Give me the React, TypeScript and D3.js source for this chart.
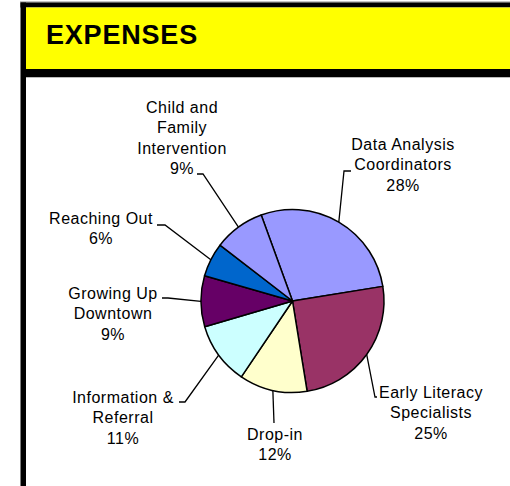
import React from 'react';
import * as d3 from 'd3';

// Expense shares (percent), clockwise from the top
const categories = [
  'Data Analysis Coordinators',
  'Early Literacy Specialists',
  'Drop-in',
  'Information & Referral',
  'Growing Up Downtown',
  'Reaching Out',
  'Child and Family Intervention',
];
const shares = [28, 25, 12, 11, 9, 6, 9];
const labelLines = [
  ['Data Analysis', 'Coordinators', '28%'],
  ['Early Literacy', 'Specialists', '25%'],
  ['Drop-in', '12%'],
  ['Information &', 'Referral', '11%'],
  ['Growing Up', 'Downtown', '9%'],
  ['Reaching Out', '6%'],
  ['Child and', 'Family', 'Intervention', '9%'],
];
const colors = ['#9999FF', '#993366', '#FFFFCC', '#CCFFFF', '#660066', '#0066CC', '#9999FF'];

// label layout: text centre, first baseline, leader elbow points
const labelLayout = [
  { x: 403, y: 150, path: [[344, 171], [351, 171]] },
  { x: 431, y: 398, path: [[375, 397], [377, 397]] },
  { x: 275, y: 440, path: [[274, 423]] },
  { x: 123, y: 403, path: [[185, 402], [179, 402]] },
  { x: 113, y: 299, path: [[168, 298], [162, 298]] },
  { x: 101, y: 224, path: [[165, 225], [157, 225]] },
  { x: 182, y: 113, path: [[203, 174], [197, 174]] },
];

const W = 510;
const H = 486;
const cx = 292.5;
const cy = 301;
const r = 91.5;

export default function App() {
  const pie = d3
    .pie<number>()
    .sort(null)
    .value(d => d)
    .startAngle((-20 * Math.PI) / 180)
    .endAngle((340 * Math.PI) / 180);
  const arcs = pie(shares);
  const arc = d3.arc<d3.PieArcDatum<number>>().innerRadius(0).outerRadius(r);
  const line = d3.line();

  const font = 'Arial, "Liberation Sans", sans-serif';

  return (
    <svg
      width={W}
      height={H}
      style={{ position: 'absolute', left: 0, top: 0, background: '#fff' }}
    >
      {/* frame */}
      <rect x={20} y={1.5} width={W - 20} height={1} fill="#888" />
      <rect x={20.5} y={2.5} width={W - 20.5} height={5} fill="#000" />
      <rect x={20.5} y={2.5} width={5.5} height={H} fill="#000" />
      <rect x={26} y={7.5} width={W - 26} height={61.5} fill="#FFFF00" />
      <rect x={26} y={69} width={W - 26} height={8} fill="#000" />
      <rect x={26} y={77} width={W - 26} height={1} fill="#bbb" />
      <text
        x={46}
        y={44}
        fontFamily={font}
        fontWeight="bold"
        fontSize={27}
        letterSpacing={0.8}
        fill="#000"
      >
        EXPENSES
      </text>

      <g transform={`translate(${cx},${cy})`}>
        {arcs.map((a, i) => (
          <path
            key={categories[i]}
            d={arc(a) || ''}
            fill={colors[i]}
            stroke="#000"
            strokeWidth={1.5}
            strokeLinejoin="round"
          />
        ))}
      </g>

      {/* leader lines */}
      {arcs.map((a, i) => {
        const mid = (a.startAngle + a.endAngle) / 2;
        const start: [number, number] = [cx + r * Math.sin(mid), cy - r * Math.cos(mid)];
        const pts = [start, ...(labelLayout[i].path as [number, number][])];
        return (
          <path
            key={'l' + i}
            d={line(pts) || ''}
            fill="none"
            stroke="#000"
            strokeWidth={1.3}
          />
        );
      })}

      {labelLines.map((lines, i) => (
        <text
          key={'t' + i}
          x={labelLayout[i].x}
          y={labelLayout[i].y}
          textAnchor="middle"
          fontFamily={font}
          fontSize={16}
          letterSpacing={0.5}
          fill="#000"
        >
          {lines.map((s, j) => (
            <tspan key={j} x={labelLayout[i].x} dy={j === 0 ? 0 : 20.3}>
              {s}
            </tspan>
          ))}
        </text>
      ))}
    </svg>
  );
}
